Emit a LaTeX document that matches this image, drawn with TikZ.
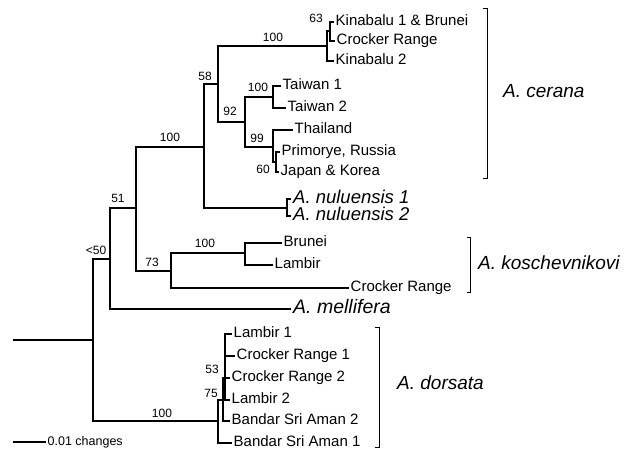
\documentclass[tikz,border=0pt]{standalone}
\usepackage{fontspec}
\setmainfont{Liberation Sans}
\begin{document}
\begin{tikzpicture}[x=1pt,y=-1pt,
  br/.style={line width=1.4pt, line cap=rect},
  brk/.style={line width=0.8pt},
  bs/.style={font=\fontsize{12}{14}\selectfont, inner sep=0pt},
  tip/.style={anchor=west, inner xsep=2.5pt, inner ysep=0pt, font=\fontsize{15}{17}\selectfont, text height=10.5pt, text depth=3pt},
  sptip/.style={anchor=west, inner xsep=3pt, inner ysep=0pt, font=\fontsize{18.5}{20}\selectfont\itshape, text height=13pt, text depth=4pt},
  sp/.style={anchor=west, inner sep=0pt, font=\fontsize{19}{21}\selectfont\itshape, text height=13pt, text depth=4pt},
  scl/.style={anchor=west, inner xsep=1.5pt, inner ysep=0pt, font=\fontsize{12.5}{15}\selectfont, text height=9pt, text depth=3pt}]
\fill[white] (0,0) rectangle (637,465);
\useasboundingbox (0,0) rectangle (637,465);
% internal nodes
\coordinate (root) at (14,340);
\coordinate (n50) at (93,340);
\coordinate (n51) at (110,259);
\coordinate (nA) at (136,208);
\coordinate (nB) at (204,147);
\coordinate (n58) at (218,84);
\coordinate (nC) at (327,46);
\coordinate (n63) at (330,31);
\coordinate (n92) at (245,122);
\coordinate (nT) at (273,97);
\coordinate (n99) at (273,147);
\coordinate (n60) at (276,162);
\coordinate (nN) at (287,208);
\coordinate (n73) at (171,271);
\coordinate (nK) at (245,253);
\coordinate (nD) at (218,421);
\coordinate (n75) at (223,400);
\coordinate (n53) at (225,378);
% tips
\node[tip] (tK1) at (333,22) {Kinabalu 1 \& Brunei};
\node[tip] (tCR) at (334,41) {Crocker Range};
\node[tip] (tK2) at (333,61) {Kinabalu 2};
\node[tip] (tT1) at (280,86) {Taiwan 1};
\node[tip] (tT2) at (285,108) {Taiwan 2};
\node[tip] (tTh) at (292,130) {Thailand};
\node[tip] (tPR) at (279,152) {Primorye, Russia};
\node[tip] (tJK) at (278,172) {Japan \& Korea};
\node[sptip] (tN1) at (290,199) {A. nuluensis 1};
\node[sptip] (tN2) at (290,216) {A. nuluensis 2};
\node[tip] (tBr) at (281,243) {Brunei};
\node[tip] (tLa) at (272,265) {Lambir};
\node[tip] (tKCR) at (348,288) {Crocker Range};
\node[sptip, font=\fontsize{19.5}{21}\selectfont\itshape] (tMel) at (290,309) {A. mellifera};
\node[tip] (tL1) at (231,334) {Lambir 1};
\node[tip] (tC1) at (234,356) {Crocker Range 1};
\node[tip] (tC2) at (229,378) {Crocker Range 2};
\node[tip] (tL2) at (229,400) {Lambir 2};
\node[tip] (tB2) at (229,421) {Bandar Sri Aman 2};
\node[tip] (tB1) at (231,443) {Bandar Sri Aman 1};
% branches
\draw[br] (root) -- (n50);
\draw[br] (n50) |- (n51);
\draw[br] (n50) |- (nD);
\draw[br] (n51) |- (nA);
\draw[br] (n51) |- (tMel.west);
\draw[br] (nA) |- (nB);
\draw[br] (nA) |- (n73);
\draw[br] (nB) |- (n58);
\draw[br] (nB) |- (nN);
\draw[br] (n58) |- (nC);
\draw[br] (n58) |- (n92);
\draw[br] (nC) |- (n63);
\draw[br] (nC) |- (tK2.west);
\draw[br] (n63) |- (tK1.west);
\draw[br] (n63) |- (tCR.west);
\draw[br] (n92) |- (nT);
\draw[br] (n92) |- (n99);
\draw[br] (nT) |- (tT1.west);
\draw[br] (nT) |- (tT2.west);
\draw[br] (n99) |- (tTh.west);
\draw[br] (n99) |- (n60);
\draw[br] (n60) |- (tPR.west);
\draw[br] (n60) |- (tJK.west);
\draw[br] (nN) |- (tN1.west);
\draw[br] (nN) |- (tN2.west);
\draw[br] (n73) |- (nK);
\draw[br] (n73) |- (tKCR.west);
\draw[br] (nK) |- (tBr.west);
\draw[br] (nK) |- (tLa.west);
\draw[br] (nD) |- (n75);
\draw[br] (nD) |- (tB1.west);
\draw[br] (n75) |- (n53);
\draw[br] (n75) |- (tB2.west);
\draw[br] (n53) |- (tL1.west);
\draw[br] (n53) |- (tC1.west);
\draw[br] (n53) |- (tC2.west);
\draw[br] (n53) |- (tL2.west);
% bootstrap values
\node[bs] (b63) at (316,18) {63};
\node[bs] (b100a) at (273,37) {100};
\node[bs] (b58) at (205,76) {58};
\node[bs] (b100t) at (258,87) {100};
\node[bs] (b92) at (230,111) {92};
\node[bs] (b99) at (257,138) {99};
\node[bs] (b60) at (263,169) {60};
\node[bs] (b100b) at (170,137) {100};
\node[bs] (b51) at (118,198) {51};
\node[bs] (b50) at (96,250) {<50};
\node[bs] (b73) at (152,262) {73};
\node[bs] (b100k) at (205,243) {100};
\node[bs] (b53) at (212,369) {53};
\node[bs] (b75) at (211,393) {75};
\node[bs] (b100d) at (162,413) {100};
% brackets and species names
\draw[brk] (483,8) -- (487,8) -- (487,178) -- (483,178);
\node[sp] (cer) at (503,93) {A. cerana};
\draw[brk] (467,237) -- (470,237) -- (470,292) -- (467,292);
\node[sp] (kos) at (478,265) {A. koschevnikovi};
\draw[brk] (375,327) -- (379,327) -- (379,447) -- (375,447);
\node[sp] (dor) at (397,385) {A. dorsata};
% scale bar
\coordinate (s0) at (13,442);
\node[scl] (stext) at (46,442) {0.01 changes};
\draw[line width=1.2pt] (s0) -- (stext.west);
\end{tikzpicture}
\end{document}
